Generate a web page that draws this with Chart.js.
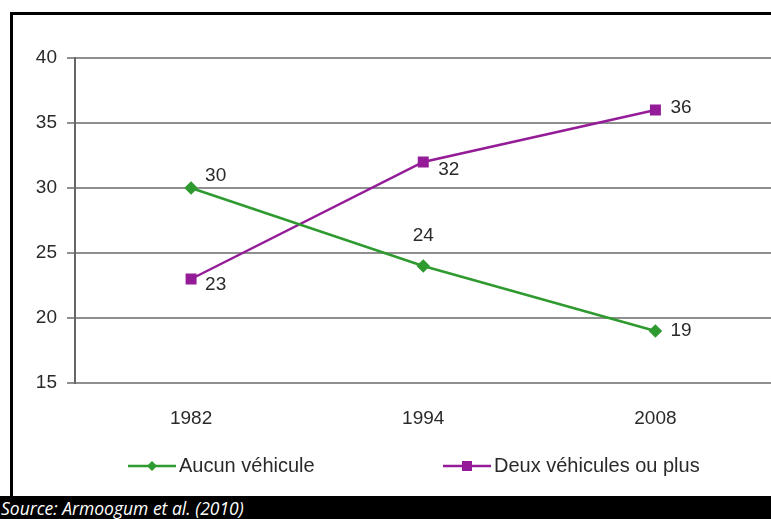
<!DOCTYPE html>
<html>
<head>
<meta charset="utf-8">
<script src="https://cdn.jsdelivr.net/npm/chart.js@4.4.1/dist/chart.umd.min.js"></script>
<style>
  html, body { margin: 0; padding: 0; background: #fff; }
  #page { position: relative; width: 771px; height: 519px; overflow: hidden; }
  #frame { position: absolute; left: 10px; top: 12px; right: -10px; bottom: 23px;
           border-top: 3px solid #000; border-left: 3px solid #000; }
  #wrap { position: absolute; left: 0; top: 0; width: 780px; height: 496px; }
  #source { position: absolute; left: 0; bottom: 0; width: 771px; height: 23px; background: #000;
            color: #fff; font: italic 17.5px "Open Sans", sans-serif; line-height: 25px; padding-left: 1px;
            box-sizing: border-box; }
</style>
</head>
<body>
<div id="page">
  <div id="frame"></div>
  <div id="wrap"><canvas id="chart"></canvas></div>
  <div id="source">Source: Armoogum et al. (2010)</div>
</div>
<script>
(function () {
  "use strict";

  // ── Data ──
  const years = ["1982", "1994", "2008"];
  const aucunVehicule = [30, 24, 19];
  const deuxVehicules = [23, 32, 36];
  const seriesNames = ["Aucun véhicule", "Deux véhicules ou plus"];

  const GREEN = "#2f9a2f";
  const PURPLE = "#941c98";
  const TEXT = "#2a2a2a";
  const FONT = '"Liberation Sans", Arial, sans-serif';

  // label placement per dataset / point: [dx, dy, align]
  const labelPlacement = [
    [[14, -12, "left"], [0, -30, "center"], [15, 0, "left"]],
    [[14, 6, "left"], [15, 8, "left"], [15, -2, "left"]],
  ];

  const valueLabels = {
    id: "valueLabels",
    afterDatasetsDraw: function (chart) {
      const ctx = chart.ctx;
      ctx.save();
      ctx.font = "19px " + FONT;
      ctx.fillStyle = TEXT;
      ctx.textBaseline = "middle";
      chart.data.datasets.forEach(function (ds, di) {
        chart.getDatasetMeta(di).data.forEach(function (pt, i) {
          const p = labelPlacement[di][i];
          ctx.textAlign = p[2];
          ctx.fillText(String(ds.data[i]), pt.x + p[0], pt.y + p[1]);
        });
      });
      ctx.restore();
    }
  };

  // legend: line with marker in the middle, then text
  const lineLegend = {
    id: "lineLegend",
    afterDraw: function (chart) {
      const ctx = chart.ctx;
      const xs = [128, 443];
      const y = 466;
      ctx.save();
      chart.data.datasets.forEach(function (ds, di) {
        const x = xs[di];
        ctx.strokeStyle = ds.borderColor;
        ctx.lineWidth = 2.5;
        ctx.beginPath();
        ctx.moveTo(x, y);
        ctx.lineTo(x + 48, y);
        ctx.stroke();
        ctx.fillStyle = ds.borderColor;
        const cx = x + 24;
        ctx.beginPath();
        if (ds.pointStyle === "rect") {
          ctx.rect(cx - 5, y - 5, 10, 10);
        } else {
          ctx.moveTo(cx, y - 5); ctx.lineTo(cx + 5, y); ctx.lineTo(cx, y + 5); ctx.lineTo(cx - 5, y);
          ctx.closePath();
        }
        ctx.fill();
        ctx.font = "20px " + FONT;
        ctx.fillStyle = TEXT;
        ctx.textAlign = "left";
        ctx.textBaseline = "middle";
        ctx.fillText(ds.label, x + 51, y);
      });
      ctx.restore();
    }
  };

  new Chart(document.getElementById("chart"), {
    type: "line",
    data: {
      labels: years,
      datasets: [{
        label: seriesNames[0],
        data: aucunVehicule,
        borderColor: GREEN,
        backgroundColor: GREEN,
        borderWidth: 2.5,
        pointStyle: "rectRot",
        pointRadius: 5,
        pointHoverRadius: 5,
        tension: 0,
      }, {
        label: seriesNames[1],
        data: deuxVehicules,
        borderColor: PURPLE,
        backgroundColor: PURPLE,
        borderWidth: 2.5,
        pointStyle: "rect",
        pointRadius: 6,
        pointHoverRadius: 6,
        tension: 0,
      }],
    },
    options: {
      responsive: true,
      maintainAspectRatio: false,
      animation: false,
      layout: { padding: { left: 0, top: 58, right: 0, bottom: 63 } },
      plugins: {
        legend: { display: false },
        tooltip: { enabled: false },
      },
      scales: {
        x: {
          offset: true,
          grid: { display: false, drawTicks: false },
          border: { display: false },
          ticks: { color: TEXT, font: { family: FONT, size: 19 }, padding: 24 },
          afterFit: function (s) { s.height = 50; },
        },
        y: {
          min: 15,
          max: 40,
          ticks: { stepSize: 5, color: TEXT, font: { family: FONT, size: 19 }, padding: 10 },
          grid: { color: "#8f8f8f", lineWidth: 2, tickLength: 8 },
          border: { color: "#666", width: 2 },
          afterFit: function (s) { s.width = 75; },
        },
      },
    },
    plugins: [valueLabels, lineLegend],
  });
})();
</script>
</body>
</html>
